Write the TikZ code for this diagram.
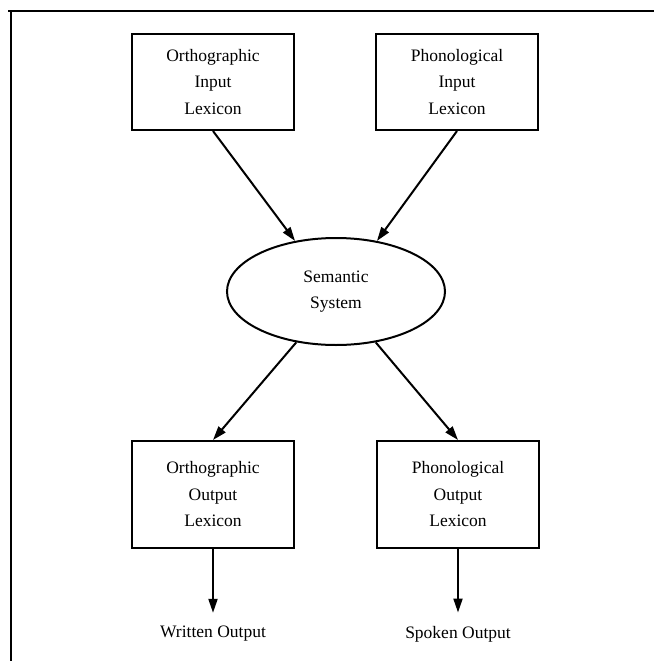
\documentclass[tikz,border=0pt]{standalone}
\usepackage{fontspec}
\setmainfont{Liberation Serif}
\usepackage{tikz}
\usetikzlibrary{arrows.meta,shapes.geometric,positioning}

\begin{document}
\begin{tikzpicture}[x=1pt, y=-1pt,
    lexbox/.style = {draw, line width=2pt, inner xsep=0pt, text width=162pt, align=center, font=\fontsize{17.5}{26.5}\selectfont},
    semnode/.style = {draw, ellipse, line width=2pt, minimum width=218pt, minimum height=107pt, align=center, font=\fontsize{17.5}{26.5}\selectfont},
    outlabel/.style = {font=\fontsize{17.5}{21}\selectfont},
    arr/.style = {-{Triangle[length=14pt, width=9pt]}, line width=2pt},
    frame/.style = {line width=2.5pt}]
    \useasboundingbox (0,0) rectangle (654,661);
    \draw [frame] (8,11) -- (654,11);
    \draw [frame] (11,11) -- (11,661);
    \node(OIL) at (213,82) [lexbox, minimum height=96pt] {Orthographic\\Input\\Lexicon};
    \node(PIL) at (457,82) [lexbox, minimum height=96pt] {Phonological\\Input\\Lexicon};
    \node(SEM) at (336,291.5) [semnode] {Semantic\\System};
    \node(OOL) at (213,494.5) [lexbox, minimum height=107pt] {Orthographic\\Output\\Lexicon};
    \node(POL) at (458,494.5) [lexbox, minimum height=107pt] {Phonological\\Output\\Lexicon};
    \node(WO) at (213,634) [outlabel] {Written Output};
    \node(SO) at (458,634) [outlabel] {Spoken Output};
    \draw [arr] (OIL.south) -- (SEM.129);
    \draw [arr] (PIL.south) -- (SEM.51);
    \draw [arr] (SEM.-128) -- (OOL.north);
    \draw [arr] (SEM.-52) -- (POL.north);
    \draw [arr, shorten >=10pt] (OOL.south) -- (WO.north);
    \draw [arr, shorten >=10pt] (POL.south) -- (SO.north);
\end{tikzpicture}
\end{document}
